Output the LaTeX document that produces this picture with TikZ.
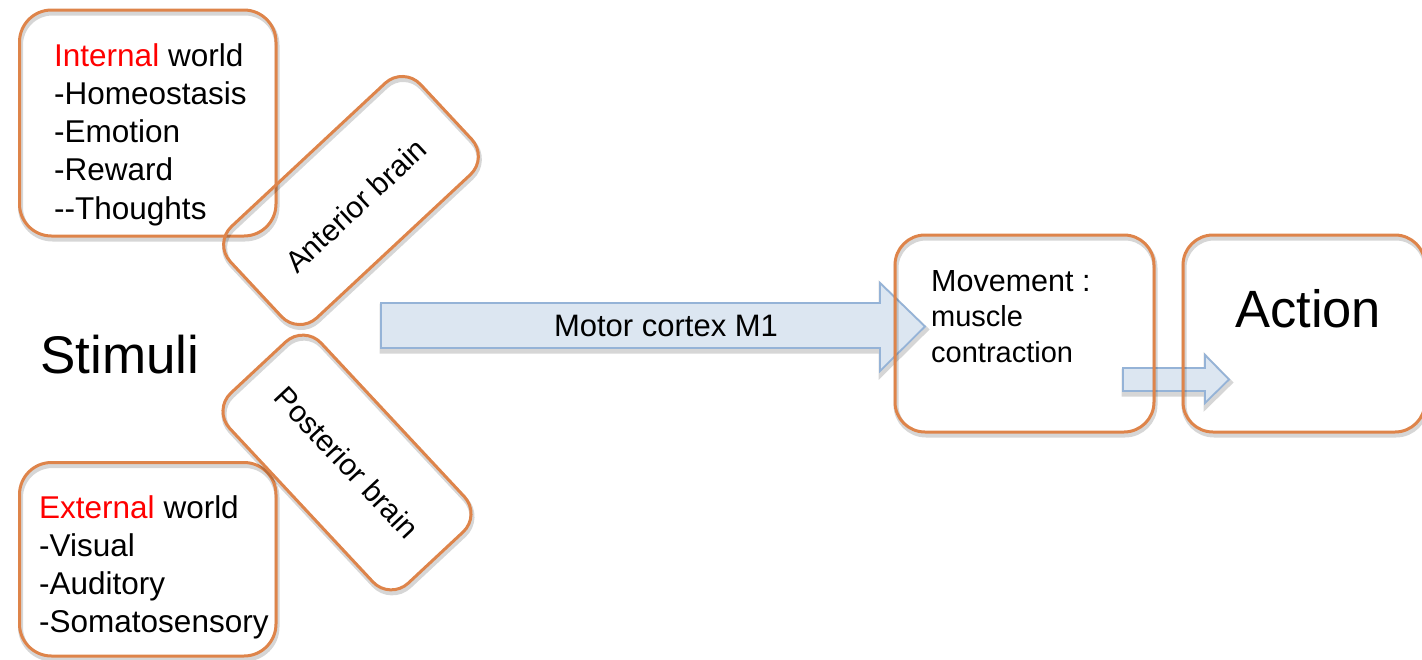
\documentclass[tikz,border=0pt]{standalone}
\usepackage{fontspec}
\setmainfont{Liberation Sans}
\usetikzlibrary{shadows}
\definecolor{orng}{RGB}{222,132,74}
\definecolor{afill}{RGB}{220,230,241}
\definecolor{aline}{RGB}{149,179,215}
\definecolor{myred}{RGB}{255,0,0}
\begin{document}
\begin{tikzpicture}[x=1pt,y=-1pt,
  softshadow/.style={general shadow={draw=black, draw opacity=0.16, line width=5pt, shadow xshift=1pt, shadow yshift=-3pt}},
  box/.style={draw=orng, line width=3pt, rounded corners=32pt, inner sep=0pt, softshadow},
  brainbox/.style={draw=orng, line width=3pt, rounded corners=25pt, inner sep=0pt,
    minimum width=260pt, minimum height=125pt, softshadow, font=\fontsize{30}{36}\selectfont},
  blockarrow/.style={draw=aline, line width=1.8pt, fill=afill, line join=miter, softshadow},
  txt/.style={inner sep=0pt, align=left},
  listfont/.style={font=\fontsize{31.5}{38.3}\selectfont},
  bigfont/.style={font=\fontsize{53}{60}\selectfont}
]
\useasboundingbox (0,0) rectangle (1422,659);

% block arrows (drawn first, boxes on top)
\draw[blockarrow] (381,303) -- (880,303) -- (880,283) -- (925,326.5) -- (880,371) -- (880,348) -- (381,348) -- cycle;
\node[inner sep=0pt, font=\fontsize{31}{36}\selectfont] (mc) at (666,326) {Motor cortex M1};
\draw[blockarrow] (1123,368) -- (1205,368) -- (1205,355) -- (1229,379.5) -- (1205,403) -- (1205,391) -- (1123,391) -- cycle;

% internal world
\node[box, minimum width=256.5pt, minimum height=226pt] (iw) at (147.75,123) {};
\node[txt, listfont, anchor=north west] (iwtxt) at (54,43)
  {{\color{myred}Internal} world\\-Homeostasis\\-Emotion\\-Reward\\-{}-Thoughts};

% external world
\node[box, minimum width=256.5pt, minimum height=193.5pt] (ew) at (147.75,559.25) {};
\node[txt, listfont, anchor=north west] (ewtxt) at (39,495)
  {{\color{myred}External} world\\-Visual\\-Auditory\\-Somatosensory};

% stimuli
\node[inner sep=0pt, bigfont, anchor=base west] (stim) at (40,373) {Stimuli};

% brain boxes
\node[brainbox, rotate=43, text height=35pt, text depth=0pt] (ant) at (351,200.5) {Anterior brain};
\node[brainbox, rotate=-47] (post) at (347,462.5) {Posterior brain};

% movement
\node[box, rounded corners=30pt, minimum width=259pt, minimum height=197pt] (mv) at (1024.5,333.5) {};
\node[txt, anchor=north west, font=\fontsize{29}{35.5}\selectfont] (mvtxt) at (931,270)
  {{\fontsize{30.5}{35.5}\selectfont Movement :}\\muscle\\contraction};

% action
\node[box, rounded corners=30pt, minimum width=242pt, minimum height=197pt] (act) at (1304,333.5) {};
\node[inner sep=0pt, font=\fontsize{52.5}{60}\selectfont, anchor=base west] (acttxt) at (1235,327) {Action};
\end{tikzpicture}
\end{document}
